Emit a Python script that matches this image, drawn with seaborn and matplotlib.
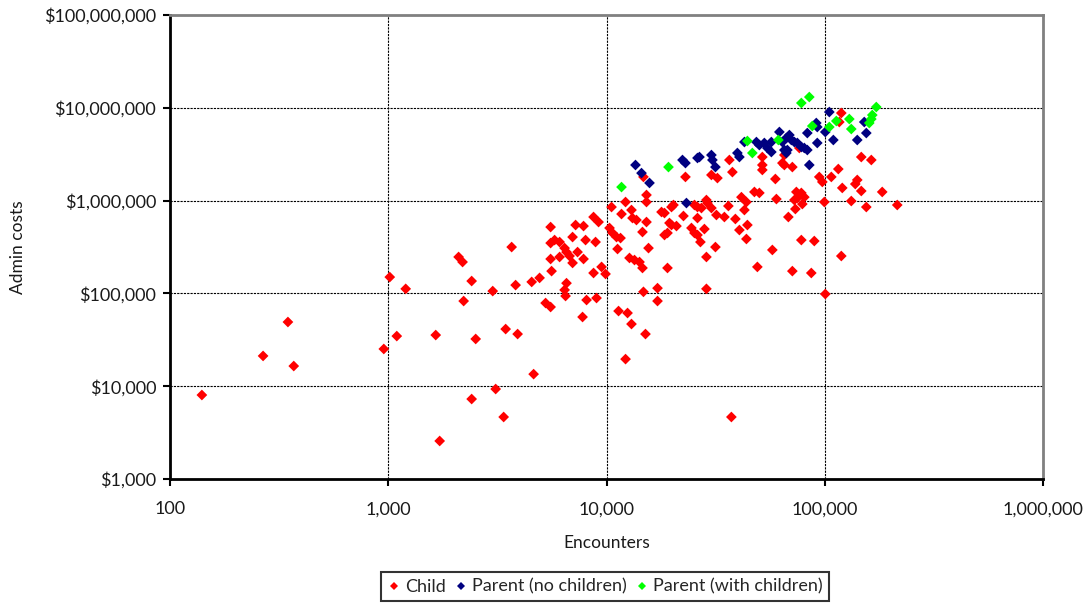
import matplotlib
matplotlib.use("Agg")
import matplotlib.pyplot as plt
from matplotlib.ticker import FuncFormatter, LogLocator, NullLocator
import numpy as np
import pandas as pd
import seaborn as sns

# Child series (encounters, admin cost)
child_enc = [140, 267, 347, 369, 1016, 1202, 954, 1094, 1650, 1720, 2100, 2190,
             2410, 2215, 2515, 2410,
             3010, 3675, 3832, 3450, 3914, 3105, 3378, 4634, 4540, 4935, 5258, 5543,
             5543, 5543, 5781, 6095, 5543, 5600, 6095, 6425, 6555, 6772, 6988, 6555,
             6425, 6490, 6988, 7215, 7846, 8015, 8906, 7366, 7846, 8719, 9193, 8719,
             9489, 9895, 8100, 8997, 7764,
             10320, 10650, 11110, 11590, 11230, 10540, 11710, 12220, 13010, 13150,
             13710, 15240, 14610, 15240, 15240, 17860, 18430, 19840, 20260, 19420,
             19840, 20910, 18430, 19020, 22510, 25280, 26100, 27210, 28680, 28980,
             26100, 30230, 31870, 24490, 25280, 26100, 28080, 26920, 34670, 36160,
             38930, 41490, 43730, 42820, 40610, 44190, 43730, 15570, 12740, 13430,
             14160, 14610, 19020, 31540, 28680, 14760, 17120, 17120, 28680, 11350,
             12480, 13010, 12220, 15080, 37320,
             14760, 22990, 30230, 32210, 36540, 37720, 51730, 51730, 51730, 63920,
             71000, 76420, 59360, 94310, 97410, 107100, 115300, 146900, 163300,
             120200, 140800, 137900, 146900, 183200, 132200, 154900, 99480, 47580,
             50130, 60000, 74070, 78060, 80550, 74850, 72520, 78880, 73290, 68080,
             78060, 89490, 57500, 119000, 49090, 71000, 86700, 100500, 214700,
             119000, 116500, 65270, 65270]
child_cost = [8040, 21200, 49200, 16500, 150000, 112000, 25200, 34700, 35600, 2570,
              247000, 218000, 136000, 82800, 32300, 7280,
              106000, 316000, 123000, 41300, 36500, 9330, 4660, 13500, 133000, 147000,
              78800, 71400, 519000, 349000, 376000, 358000, 235000, 174000, 247000,
              308000, 279000, 253000, 213000, 129000, 109000, 93800, 405000, 546000,
              532000, 376000, 358000, 279000, 235000, 666000, 588000, 166000, 193000,
              162000, 84900, 89200, 55700,
              507000, 448000, 405000, 395000, 301000, 853000, 717000, 966000, 792000,
              649000, 618000, 588000, 459000, 1150000, 966000, 754000, 735000, 853000,
              897000, 574000, 546000, 532000, 426000, 448000, 683000, 897000, 853000,
              832000, 1015000, 942000, 649000, 832000, 700000, 507000, 448000, 426000,
              494000, 358000, 666000, 875000, 634000, 1090000, 966000, 792000, 482000,
              546000, 386000, 308000, 241000, 229000, 218000, 188000, 188000, 316000,
              247000, 104000, 114000, 82800, 112000, 64600, 61500, 46800, 19600, 36500,
              4660,
              1800000, 1800000, 1890000, 1750000, 2740000, 2030000, 2950000, 2420000,
              2140000, 2540000, 2300000, 3690000, 1710000, 1800000, 1590000, 1800000,
              2190000, 2950000, 2740000, 1370000, 1670000, 1510000, 1270000, 1240000,
              990000, 853000, 966000, 1240000, 1210000, 1040000, 1240000, 1210000,
              1090000, 1070000, 1015000, 919000, 812000, 666000, 376000, 367000,
              294000, 253000, 193000, 174000, 166000, 98500, 897000, 8790000, 7030000,
              3100000, 2420000]

# Parent (no children)
parent_enc = [13570, 14460, 15730, 22280, 22990, 26100, 26650, 30230, 30550, 31540,
              39760, 40610, 42820, 23230, 48600, 50130, 52840, 56890, 56890, 54540,
              61920, 63920, 66660, 68810, 70260, 72520, 74850, 78060, 80550, 83140,
              66660, 67370, 83140, 91390, 92350, 92350, 84900, 104860, 100500, 109400,
              151600, 154900, 140800, 65270]
parent_cost = [2420000, 1980000, 1550000, 2740000, 2540000, 2880000, 2950000, 3100000,
               2740000, 2300000, 3260000, 2950000, 4280000, 942000, 4280000, 3970000,
               4180000, 4280000, 3340000, 3690000, 5490000, 4280000, 4730000, 5090000,
               4500000, 4280000, 4180000, 3780000, 3690000, 3510000, 3260000, 3510000,
               5350000, 6860000, 6210000, 4180000, 2420000, 9010000, 5490000, 4500000,
               7030000, 5350000, 4500000, 3510000]

# Parent (with children)
family_enc = [11710, 19220, 44190, 46560, 61270, 78060, 84900, 87620, 104860, 112900,
              129500, 132200, 159800, 163300, 165000, 172100]
family_cost = [1400000, 2300000, 4390000, 3260000, 4500000, 11270000, 13070000, 6370000,
               6210000, 7210000, 7570000, 5910000, 6860000, 7570000, 8360000, 10200000]

series_names = ["Child", "Parent (no children)", "Parent (with children)"]
series_colors = ["#FF0000", "#000080", "#00FF00"]

df = pd.DataFrame({
    "Encounters": child_enc + parent_enc + family_enc,
    "Admin costs": child_cost + parent_cost + family_cost,
    "group": [series_names[0]] * len(child_enc) + [series_names[1]] * len(parent_enc)
             + [series_names[2]] * len(family_enc),
})

sns.set_theme(style="ticks")
plt.rcParams["font.family"] = ["Lato", "DejaVu Sans"]

fig = plt.figure(figsize=(10.91, 6.03), dpi=100)
ax = fig.add_axes([0.1558, 0.2056, 0.8003, 0.7695])

sns.scatterplot(data=df, x="Encounters", y="Admin costs", hue="group",
                hue_order=series_names, palette=series_colors, marker="D",
                s=30, linewidth=0, ax=ax)

ax.set_xscale("log")
ax.set_yscale("log")
ax.set_xlim(100, 1e6)
ax.set_ylim(1e3, 1e8)
ax.xaxis.set_major_locator(LogLocator(base=10))
ax.yaxis.set_major_locator(LogLocator(base=10))
ax.xaxis.set_minor_locator(NullLocator())
ax.yaxis.set_minor_locator(NullLocator())
ax.xaxis.set_major_formatter(FuncFormatter(lambda v, p: f"{v:,.0f}"))
ax.yaxis.set_major_formatter(FuncFormatter(lambda v, p: f"${v:,.0f}"))

ax.grid(True, which="major", color="black", linestyle=(0, (2, 1)), linewidth=0.8)
ax.set_axisbelow(True)

for side in ["left", "bottom"]:
    ax.spines[side].set_color("black")
    ax.spines[side].set_linewidth(2)
for side in ["top", "right"]:
    ax.spines[side].set_visible(True)
    ax.spines[side].set_color("#808080")
    ax.spines[side].set_linewidth(2)

ax.tick_params(axis="both", which="major", length=5, width=1.5, color="black",
               labelsize=13, labelcolor="#1a1a1a")
ax.tick_params(axis="x", pad=11)
ax.tick_params(axis="y", pad=5)

ax.set_xlabel("Encounters", fontsize=12.5, color="#1a1a1a", labelpad=13)
ax.set_ylabel("Admin costs", fontsize=12.5, color="#1a1a1a", labelpad=13)

sns.move_legend(ax, "lower center", bbox_to_anchor=(0.5545, 0.0),
                bbox_transform=fig.transFigure, ncol=3, title=None, frameon=True,
                fontsize=13, handlelength=0.8, handletextpad=0.2, columnspacing=0.45,
                borderpad=0.35, borderaxespad=0.1, markerscale=0.7)
leg = ax.get_legend()
leg.get_frame().set_edgecolor("black")
leg.get_frame().set_linewidth(1.5)
leg.get_frame().set_boxstyle("square", pad=0)

fig.savefig("out.png", dpi=100)
